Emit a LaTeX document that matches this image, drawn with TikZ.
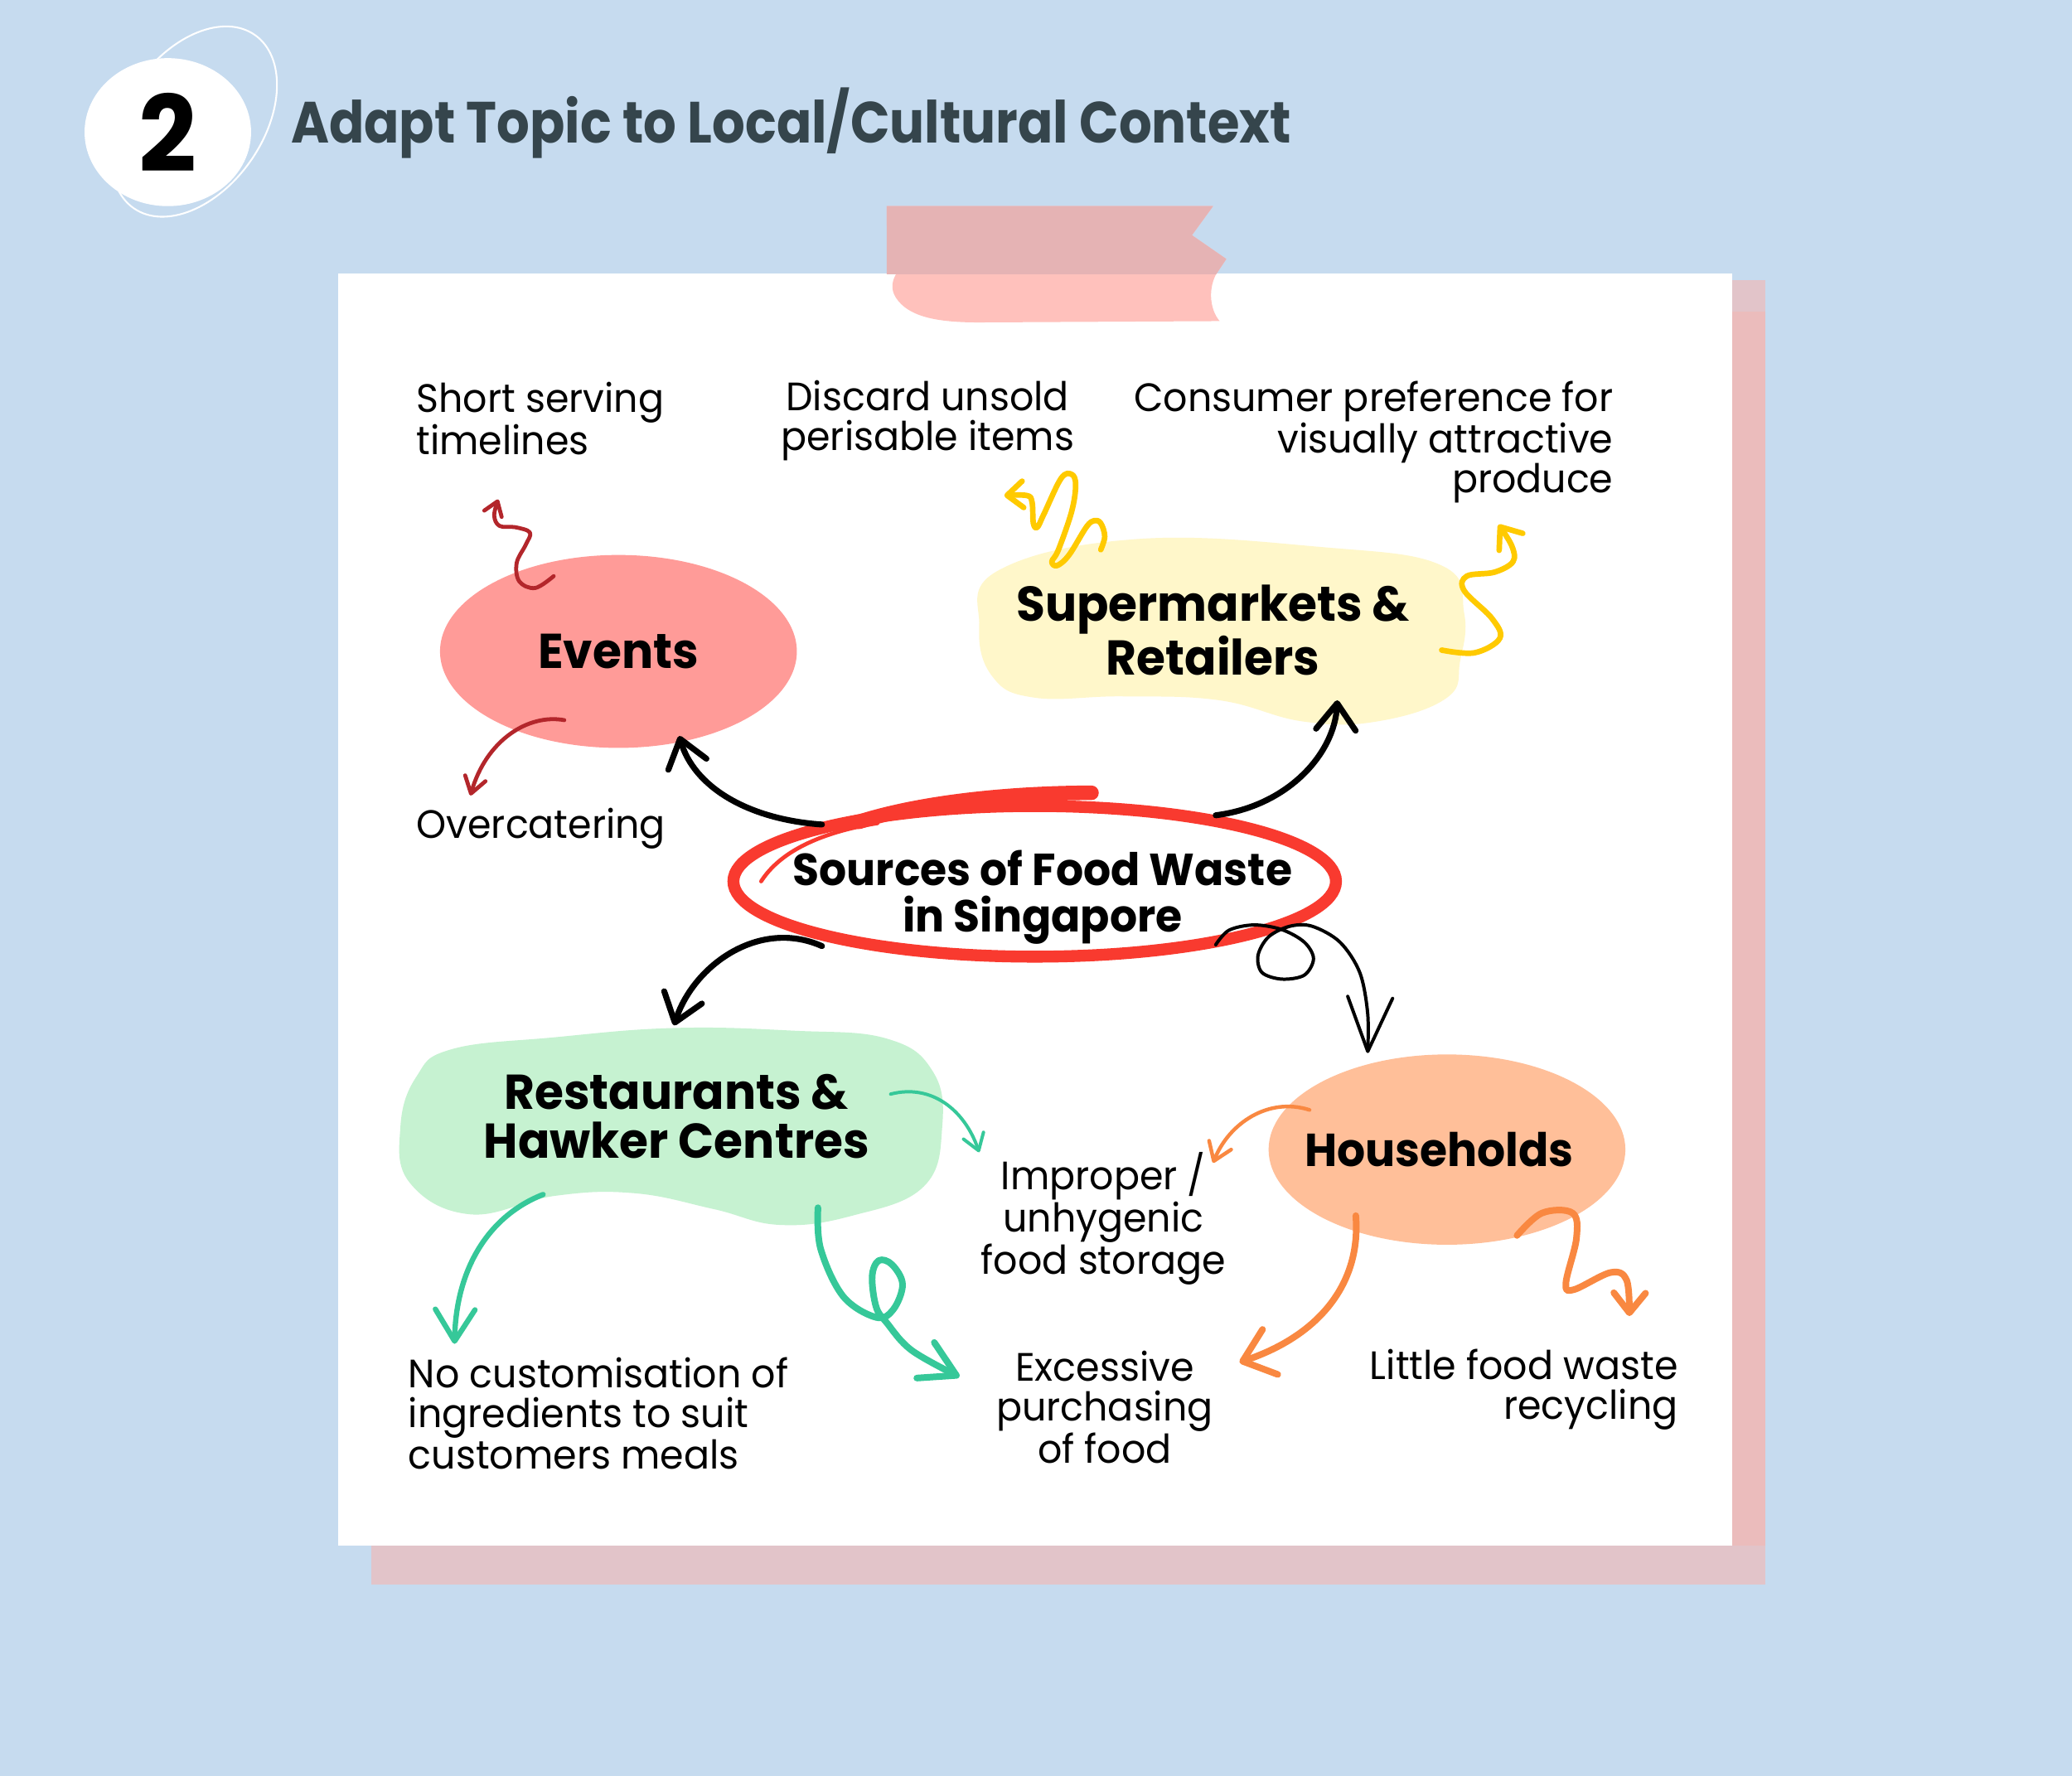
\documentclass[tikz,border=0pt]{standalone}
\usepackage{fontspec}
\setmainfont{Poppins}
\newfontfamily\handfont{Poppins}[FakeStretch=0.96]
\newfontfamily\headfont{Poppins}[FakeStretch=0.89]
\usetikzlibrary{arrows.meta,positioning,shapes.geometric}
\usepackage{xcolor}
\definecolor{bgblue}{HTML}{C6DBEF}
\definecolor{headgray}{HTML}{35454C}
\definecolor{tapedark}{HTML}{E5B3B4}
\definecolor{tapelight}{HTML}{FFC1BC}
\definecolor{shadowpink}{HTML}{EBBCBC}
\definecolor{shadowpale}{HTML}{E2C4C9}
\definecolor{evpink}{HTML}{FF9B98}
\definecolor{supyellow}{HTML}{FFF7CA}
\definecolor{resgreen}{HTML}{C6F2D1}
\definecolor{houpeach}{HTML}{FFBF99}
\definecolor{ovalred}{HTML}{F93A2F}
\definecolor{penyellow}{HTML}{FFCA00}
\definecolor{pengreen}{HTML}{36C899}
\definecolor{penorange}{HTML}{F98841}
\definecolor{pendred}{HTML}{B3262B}

\begin{document}
\begin{tikzpicture}[x=1pt, y=-1pt,
  lbl/.style={font=\handfont\fontsize{30}{30}\selectfont, inner sep=0pt},
  hub/.style={font=\handfont\bfseries\fontsize{37}{37}\selectfont, inner sep=0pt, align=center},
  pen/.style={line cap=round, line join=round},
  blk/.style={pen, black, line width=4.5pt, -{Straight Barb[length=20pt,width=30pt,round]}}]
  % page
  \useasboundingbox (0,0) rectangle (1568,1344);
  \fill[bgblue] (0,0) rectangle (1568,1344);
  % shadow and paper
  \fill[shadowpale] (281,1170) rectangle (1336,1199);
  \fill[shadowpink] (1311,236) rectangle (1336,1170);
  \fill[shadowpale] (1311,212) rectangle (1336,236);
  \fill[white] (256,207) rectangle (1311,1170);
  % tape
  \fill[tapelight] (671,156) -- (918,156) -- (902,178) -- (928,196) -- (920,208)
    .. controls (914,220) and (916,235) .. (923,243) -- (741,244)
    .. controls (710,244) and (690,240) .. (680,228)
    .. controls (668,214) and (682,202) .. (689,194)
    .. controls (692,186) and (672,180) .. (671,170) -- cycle;
  \begin{scope}
    \clip (0,0) rectangle (1568,207);
    \fill[tapedark] (671,156) -- (918,156) -- (902,178) -- (928,196) -- (920,208)
      -- (916,230) -- (671,230) -- cycle;
  \end{scope}

  % badge and title
  \draw[white, line width=1.3pt, rotate around={55:(147,92)}] (147,92) ellipse [x radius=80, y radius=52];
  \node[ellipse, fill=white, minimum width=126pt, minimum height=112pt, inner sep=0pt,
    font=\handfont\bfseries\fontsize{80}{80}\selectfont] (badge) at (127,100) {2};
  \node[anchor=base west, inner sep=0pt, text=headgray,
    font=\headfont\bfseries\fontsize{44}{50}\selectfont] (title) at (220,108)
    {Adapt Topic to Local/Cultural Context};

  % blobs
  \fill[supyellow] plot[smooth cycle, tension=0.7] coordinates {(755,432) (860,408) (1000,414)
    (1091,428) (1108,464) (1105,500) (1095,528) (1042,546) (986,546) (923,530) (850,527)
    (783,528) (751,512) (741,474)};
  \fill[resgreen] plot[smooth cycle, tension=0.7] coordinates {(356,919) (420,905) (480,903)
    (540,915) (590,927) (645,920) (699,898) (713,853) (706,811) (671,786) (600,780)
    (510,778) (420,785) (342,794) (315,815) (303,853) (310,895)};
  \node[ellipse, fill=evpink, minimum width=270pt, minimum height=146pt, inner sep=0pt,
    hub] (events) at (468,493) {Events};
  \node[ellipse, fill=houpeach, minimum width=270pt, minimum height=144pt, inner sep=0pt]
    (house) at (1095,870) {};
  \node[hub, font=\handfont\bfseries\fontsize{35}{37}\selectfont] (houseText) at (1089,870) {Households};
  \node[hub] (super) at (918,477) {Supermarkets \&\\Retailers};
  \node[hub] (rest) at (512,845) {Restaurants \&\\Hawker Centres};
  \node[ellipse, draw=ovalred, line width=9pt, minimum width=456pt, minimum height=114pt,
    inner sep=0pt] (sources) at (783,667) {};
  \draw[ovalred, pen, line width=11pt] (650,622) .. controls (700,606) and (770,600) .. (826,600);
  \draw[ovalred, pen, line width=3pt] (576,667) .. controls (590,645) and (620,630) .. (664,623);
  \node[hub, font=\handfont\bfseries\fontsize{34}{35}\selectfont] (srcText) at (789,679)
    {Sources of Food Waste\\in Singapore};

  % labels
  \node[lbl, anchor=north west, align=left] (short) at (315,289) {Short serving\\timelines};
  \node[lbl, anchor=north, align=center] (discard) at (702,288) {Discard unsold\\perisable items};
  \node[lbl, anchor=north east, align=right] (consumer) at (1221,288)
    {Consumer preference for\\visually attractive\\produce};
  \node[lbl, anchor=west] (overcat) at (315,627) {Overcatering};
  \node[lbl, anchor=north, align=center] (improper) at (835,872) {Improper /\\unhygenic\\food storage};
  \node[lbl, anchor=north west, align=left] (nocust) at (309,1027)
    {No customisation of\\ingredients to suit\\customers meals};
  \node[lbl, anchor=north, align=center] (excess) at (836,1022) {Excessive\\purchasing\\of food};
  \node[lbl, anchor=north east, align=right] (little) at (1270,1021) {Little food waste\\recycling};

  % arrow ends
  \coordinate (srcNW) at (622,624);  \coordinate (evIn) at (514,557);
  \coordinate (srcNE) at (920,617);  \coordinate (supIn) at (1012,530);
  \coordinate (srcSW) at (622,716);  \coordinate (resIn) at (510,776);
  \coordinate (srcSE) at (920,715);  \coordinate (houIn) at (1035,797);
  \coordinate (evTop) at (419,436);  \coordinate (shortIn) at (377,378);
  \coordinate (evBot) at (427,545);  \coordinate (overIn) at (356,602);
  \coordinate (supTop) at (833,416); \coordinate (discIn) at (760,375);
  \coordinate (supRt) at (1091,492); \coordinate (consIn) at (1134,397);
  \coordinate (resRt) at (674,828);  \coordinate (impIn) at (741,872);
  \coordinate (resBot) at (411,904); \coordinate (noIn) at (344,1017);
  \coordinate (resBR) at (619,914);  \coordinate (excIn) at (726,1042);
  \coordinate (houLt) at (991,840);  \coordinate (impIn2) at (918,880);
  \coordinate (houBot) at (1026,920); \coordinate (excIn2) at (938,1031);
  \coordinate (houBR) at (1148,935); \coordinate (litIn) at (1233,996);

  % black connectors
  \draw[blk] (srcNW) .. controls (565,620) and (525,595) .. (evIn);
  \draw[blk] (srcNE) .. controls (975,610) and (1010,570) .. (supIn);
  \draw[blk] (srcSW) .. controls (575,695) and (525,730) .. (resIn);
  \draw[pen, black, line width=2.5pt, -{Straight Barb[length=41pt,width=34pt,round]}]
    plot[smooth, tension=0.55] coordinates {(srcSE) (930,704) (949,700) (970,703.5) (987,713)
    (994,725.5) (987,738) (970,741) (955,736) (952,723) (960,709) (976,701) (993,701)
    (1014,713) (1029,736) (1035,767) (houIn)};

  % red
  \draw[pen, pendred, line width=3pt, -{Straight Barb[length=10pt,width=14pt,round]}]
    plot[smooth, tension=0.6] coordinates {(evTop) (405,445) (393,440) (391,426) (398,412)
    (401,403) (390,399) (378,398) (374,390) (shortIn)};
  \draw[pen, pendred, line width=3pt, -{Straight Barb[length=12pt,width=16pt,round]}]
    (evBot) .. controls (400,540) and (368,560) .. (overIn);

  % yellow
  \draw[pen, penyellow, line width=4.2pt, -{Straight Barb[length=12pt,width=20pt,round]}]
    plot[smooth, tension=0.6] coordinates {(supTop) (836,406) (833,396) (828,394) (822,399)
    (809,420) (800,428) (796,425) (801,416) (811,387) (814,367) (811,359) (803,362)
    (790,389) (785,399) (782,396) (781,380) (777,375) (discIn)};
  \draw[pen, penyellow, line width=4.2pt, -{Straight Barb[length=14pt,width=22pt,round]}]
    plot[smooth, tension=0.6] coordinates {(supRt) (1116,494) (1135,483) (1129,468)
    (1108,447) (1110,436) (1131,433) (1145,425) (1144,413) (consIn)};

  % green
  \draw[pen, pengreen, line width=2.5pt, -{Straight Barb[length=12pt,width=16pt,round]}]
    (resRt) .. controls (705,820) and (730,840) .. (impIn);
  \draw[pen, pengreen, line width=4pt, -{Straight Barb[length=24pt,width=30pt,round]}]
    (resBot) .. controls (370,920) and (345,960) .. (noIn);
  \draw[pen, pengreen, line width=5pt, -{Straight Barb[length=26pt,width=30pt,round]}]
    plot[smooth, tension=0.6] coordinates {(resBR) (621,945) (638,981) (663,997) (676,991)
    (683,972) (675,957) (665,954) (660,966) (663,989) (671,1001) (690,1022) (excIn)};

  % orange
  \draw[pen, penorange, line width=2.8pt, -{Straight Barb[length=13pt,width=18pt,round]}]
    (houLt) .. controls (960,830) and (930,850) .. (impIn2);
  \draw[pen, penorange, line width=5pt, -{Straight Barb[length=22pt,width=36pt,round]}]
    (houBot) .. controls (1030,970) and (1000,1010) .. (excIn2);
  \draw[pen, penorange, line width=5pt, -{Straight Barb[length=15pt,width=24pt,round]}]
    plot[smooth, tension=0.6] coordinates {(houBR) (1167,918) (1190,918) (1193,937)
    (1185,971) (1191,976) (1219,963) (1231,969) (litIn)};
\end{tikzpicture}
\end{document}
